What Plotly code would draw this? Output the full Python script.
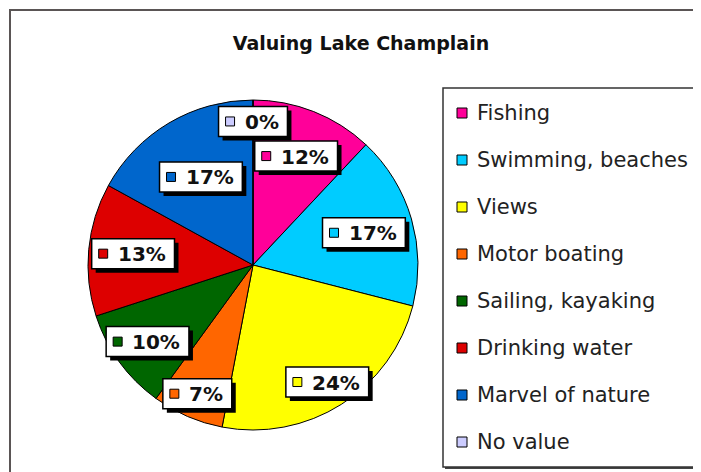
import math
import plotly.graph_objects as go

# ---- data ----
categories = ["Fishing", "Swimming, beaches", "Views", "Motor boating",
              "Sailing, kayaking", "Drinking water", "Marvel of nature", "No value"]
percent_values = [12, 17, 24, 7, 10, 13, 17, 0]
label_texts = [f"{v}%" for v in percent_values]
title_text = "Valuing Lake Champlain"

# ---- styles / layout constants ----
colors = ["#FF0099", "#00CCFF", "#FFFF00", "#FF6600",
          "#006600", "#DD0000", "#0066CC", "#CCCCFF"]
label_radius = [0.71, 0.70, 0.84, 0.85, 0.79, 0.73, 0.62, 0.87]

OFF = 8                      # page body margin in the browser
W, H = 701 - OFF, 472 - OFF  # figure size
CX, CY, R = 253, 265, 165    # pie centre / radius in page pixels
FONT = "DejaVu Sans"


def px(x):
    return (x - OFF) / W


def py(y):
    return 1 - (y - OFF) / H


fig = go.Figure()
fig.add_trace(go.Pie(
    labels=categories,
    values=percent_values,
    sort=False,
    direction="clockwise",
    rotation=0,
    marker=dict(colors=colors, line=dict(color="#000000", width=1)),
    textinfo="none",
    hoverinfo="label+percent",
    showlegend=False,
    domain=dict(x=[px(CX - R), px(CX + R)], y=[py(CY + R), py(CY - R)]),
))

shapes = []
annotations = []

# outer frame
shapes.append(dict(type="rect", xref="paper", yref="paper",
                   x0=px(10), x1=px(720), y0=py(10), y1=py(490),
                   line=dict(color="#5a5555", width=2), fillcolor="rgba(0,0,0,0)", layer="below"))

# data labels (boxes with shadow, colour key and bold percentage)
total = sum(percent_values)
cum = 0
for i, v in enumerate(percent_values):
    mid = (cum + v / 2) / total * 2 * math.pi
    cum += v
    r = R * label_radius[i]
    cx = CX + r * math.sin(mid)
    cy = CY - r * math.cos(mid)
    txt = label_texts[i]
    tw = sum(20.0 if ch == "%" else 13.9 for ch in txt)
    bw = 35 + tw
    bh = 30
    x0 = cx - bw / 2
    y0 = cy - bh / 2
    # shadow
    shapes.append(dict(type="rect", xref="paper", yref="paper",
                       x0=px(x0 + 4), x1=px(x0 + bw + 4), y0=py(y0 + 4), y1=py(y0 + bh + 4),
                       line=dict(width=0), fillcolor="#000000"))
    # box
    shapes.append(dict(type="rect", xref="paper", yref="paper",
                       x0=px(x0), x1=px(x0 + bw), y0=py(y0), y1=py(y0 + bh),
                       line=dict(color="#000000", width=1.5), fillcolor="#FFFFFF"))
    # colour key
    shapes.append(dict(type="rect", xref="paper", yref="paper",
                       x0=px(x0 + 7), x1=px(x0 + 16), y0=py(cy - 4.5), y1=py(cy + 4.5),
                       line=dict(color="#000000", width=1), fillcolor=colors[i]))
    annotations.append(dict(xref="paper", yref="paper", x=px(x0 + 24), y=py(cy + 0.5),
                            xanchor="left", yanchor="middle", showarrow=False,
                            text=f"<b>{txt}</b>",
                            font=dict(family=FONT, size=20, color="#111111")))

# legend box
LX0, LY0, LX1, LY1 = 443, 88, 697, 467
shapes.append(dict(type="rect", xref="paper", yref="paper",
                   x0=px(LX0 + 2), x1=px(LX1 + 2), y0=py(LY0 + 2), y1=py(LY1 + 2),
                   line=dict(width=0), fillcolor="#444444"))
shapes.append(dict(type="rect", xref="paper", yref="paper",
                   x0=px(LX0), x1=px(LX1), y0=py(LY0), y1=py(LY1),
                   line=dict(color="#333333", width=1.5), fillcolor="#FFFFFF"))
for i, name in enumerate(categories):
    yc = 113 + 47 * i
    shapes.append(dict(type="rect", xref="paper", yref="paper",
                       x0=px(457), x1=px(467), y0=py(yc - 5), y1=py(yc + 5),
                       line=dict(color="#000000", width=1), fillcolor=colors[i]))
    annotations.append(dict(xref="paper", yref="paper", x=px(475), y=py(yc),
                            xanchor="left", yanchor="middle", showarrow=False,
                            text=name,
                            font=dict(family=FONT, size=21, color="#222222")))

fig.update_layout(
    width=W, height=H,
    margin=dict(l=0, r=0, t=0, b=0),
    paper_bgcolor="#FFFFFF",
    plot_bgcolor="#FFFFFF",
    title=dict(text=f"<b>{title_text}</b>", x=px(361), xanchor="center",
               y=py(43), yanchor="middle",
               font=dict(family=FONT, size=19, color="#111111")),
    shapes=shapes,
    annotations=annotations,
)

fig.write_html("out.html")
